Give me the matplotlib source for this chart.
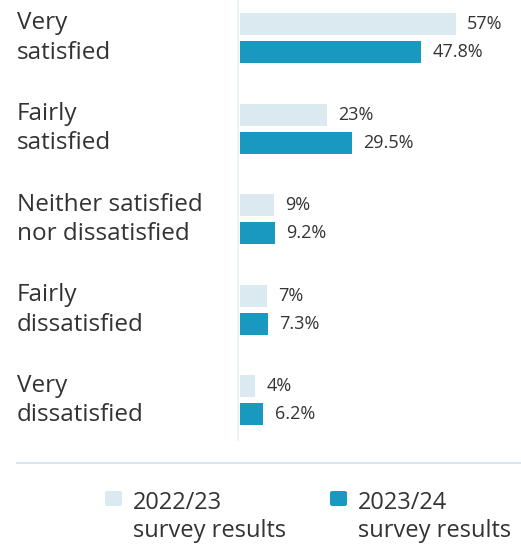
import matplotlib
matplotlib.use("Agg")
import matplotlib.pyplot as plt
from matplotlib.patches import FancyBboxPatch
from matplotlib.lines import Line2D
import matplotlib.transforms as mtransforms
import numpy as np

categories = [
    "Very\nsatisfied",
    "Fairly\nsatisfied",
    "Neither satisfied\nnor dissatisfied",
    "Fairly\ndissatisfied",
    "Very\ndissatisfied",
]
results_2022 = [57, 23, 9, 7, 4]
results_2023 = [47.8, 29.5, 9.2, 7.3, 6.2]
labels_2022 = ["57%", "23%", "9%", "7%", "4%"]
labels_2023 = ["47.8%", "29.5%", "9.2%", "7.3%", "6.2%"]
series_names = ["2022/23\nsurvey results", "2023/24\nsurvey results"]

light = "#dbeaf0"
dark = "#1899c0"
text_col = "#333333"
plt.rcParams["font.family"] = ["Open Sans", "DejaVu Sans"]

W, H = 521, 547
fig = plt.figure(figsize=(W / 100, H / 100), dpi=100)


def px(x, y):
    # pixel (from top-left) -> figure fraction
    return x / W, 1 - y / H


# axes spanning x 240..500 px, y 0..440 px
ax = fig.add_axes([240 / W, 1 - 440 / H, 260 / W, 440 / H])
ax.set_xlim(0, 260 / 3.79)
ax.set_ylim(4 + 39.5 / 90.6, -38 / 90.6)
ax.axis("off")

ypos = np.arange(len(categories))
bh = 22 / 90.6
off = 14 / 90.6
ax.barh(ypos - off, results_2022, height=bh, color=light, zorder=2)
ax.barh(ypos + off, results_2023, height=bh, color=dark, zorder=2)

for y, v, lab in zip(ypos, results_2022, labels_2022):
    ax.annotate(lab, (v, y - off), xytext=(8, 0), textcoords="offset points",
                va="center", ha="left", fontsize=13, color=text_col)
for y, v, lab in zip(ypos, results_2023, labels_2023):
    ax.annotate(lab, (v, y + off), xytext=(8, 0), textcoords="offset points",
                va="center", ha="left", fontsize=13, color=text_col)

# category labels
trans = mtransforms.blended_transform_factory(fig.transFigure, ax.transData)
for y, cat in zip(ypos, categories):
    ax.text(17 / W, y, cat, transform=trans, ha="left", va="center",
            fontsize=17.5, color=text_col, linespacing=1.3)

# faint axis line and separator
fig.add_artist(Line2D([238 / W, 238 / W], [1, 1 - 440 / H], color="#edf4f6", lw=1.5))
fig.add_artist(Line2D([17 / W, 1], [1 - 463 / H, 1 - 463 / H], color="#d6e9ee", lw=1.5))

# legend
for (sx, tx), col, name in zip([(105, 133), (330, 358)], [light, dark], series_names):
    x0, y0 = px(sx, 506)
    fig.add_artist(FancyBboxPatch((x0, y0), 17 / W, 15 / H,
                                  boxstyle="round,pad=0,rounding_size=0.004",
                                  transform=fig.transFigure, color=col, lw=0))
    fig.text(*px(tx, 517), name, ha="left", va="center", fontsize=17,
             color=text_col, linespacing=1.25)

fig.savefig("out.png", dpi=100)
